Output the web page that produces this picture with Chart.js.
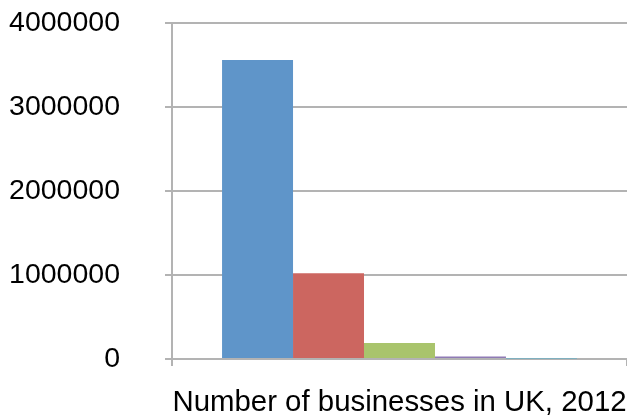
<!DOCTYPE html>
<html>
<head>
<meta charset="utf-8">
<script src="https://cdn.jsdelivr.net/npm/chart.js@4"></script>
<style>
  html, body { margin: 0; padding: 0; background: #fff; }
  #wrap { width: 627px; height: 415px; }
</style>
</head>
<body>
<div id="wrap"><canvas id="chart"></canvas></div>
<script>
const categories = ['Number of businesses in UK, 2012'];
const seriesNames = ['No employees', '1-9 employees', '10-49 employees', '50-249 employees', '250+ employees'];
const seriesValues = [3560000, 1020000, 190000, 31000, 6500];
const seriesColors = ['#5f95c9', '#cc6660', '#a9c46c', '#8f7bb5', '#4daecb'];
const yTicks = [0, 1000000, 2000000, 3000000, 4000000];

const FONT = 'Liberation Sans, Arial, Helvetica, sans-serif';
const GRID = '#b3b3b3';

const datasets = seriesNames.map((name, i) => ({
  label: name,
  data: [seriesValues[i]],
  backgroundColor: seriesColors[i],
  borderWidth: 0,
  barPercentage: 1,
  categoryPercentage: 0.78
}));

new Chart(document.getElementById('chart'), {
  type: 'bar',
  data: { labels: categories, datasets: datasets },
  options: {
    responsive: true,
    maintainAspectRatio: false,
    animation: false,
    layout: { padding: { top: 23, right: 0, bottom: 0, left: 0 } },
    plugins: {
      legend: { display: false },
      tooltip: { enabled: false }
    },
    scales: {
      x: {
        grid: { display: true, drawOnChartArea: false, offset: true, tickLength: 7, color: GRID, lineWidth: 2 },
        border: { display: true, color: GRID, width: 2 },
        ticks: { display: false },
        title: {
          display: true,
          text: categories[0],
          color: '#000',
          font: { family: FONT, size: 29.4, lineHeight: 0.85 },
          padding: { top: 0, bottom: 0 }
        },
        afterFit: (scale) => { scale.height = 56; }
      },
      y: {
        min: 0,
        max: 4000000,
        afterBuildTicks: (scale) => { scale.ticks = yTicks.map(v => ({ value: v })); },
        grid: { color: GRID, lineWidth: 2, tickLength: 7 },
        border: { display: true, color: GRID, width: 2 },
        ticks: {
          color: '#000',
          padding: 45,
          font: { family: FONT, size: 28.5 },
          callback: (v) => String(v)
        },
        afterFit: (scale) => {
          // the big tick padding should not push the plot area down
          scale.width = 172;
          scale.paddingTop = 0;
          scale.paddingBottom = 0;
        }
      }
    }
  }
});
</script>
</body>
</html>
